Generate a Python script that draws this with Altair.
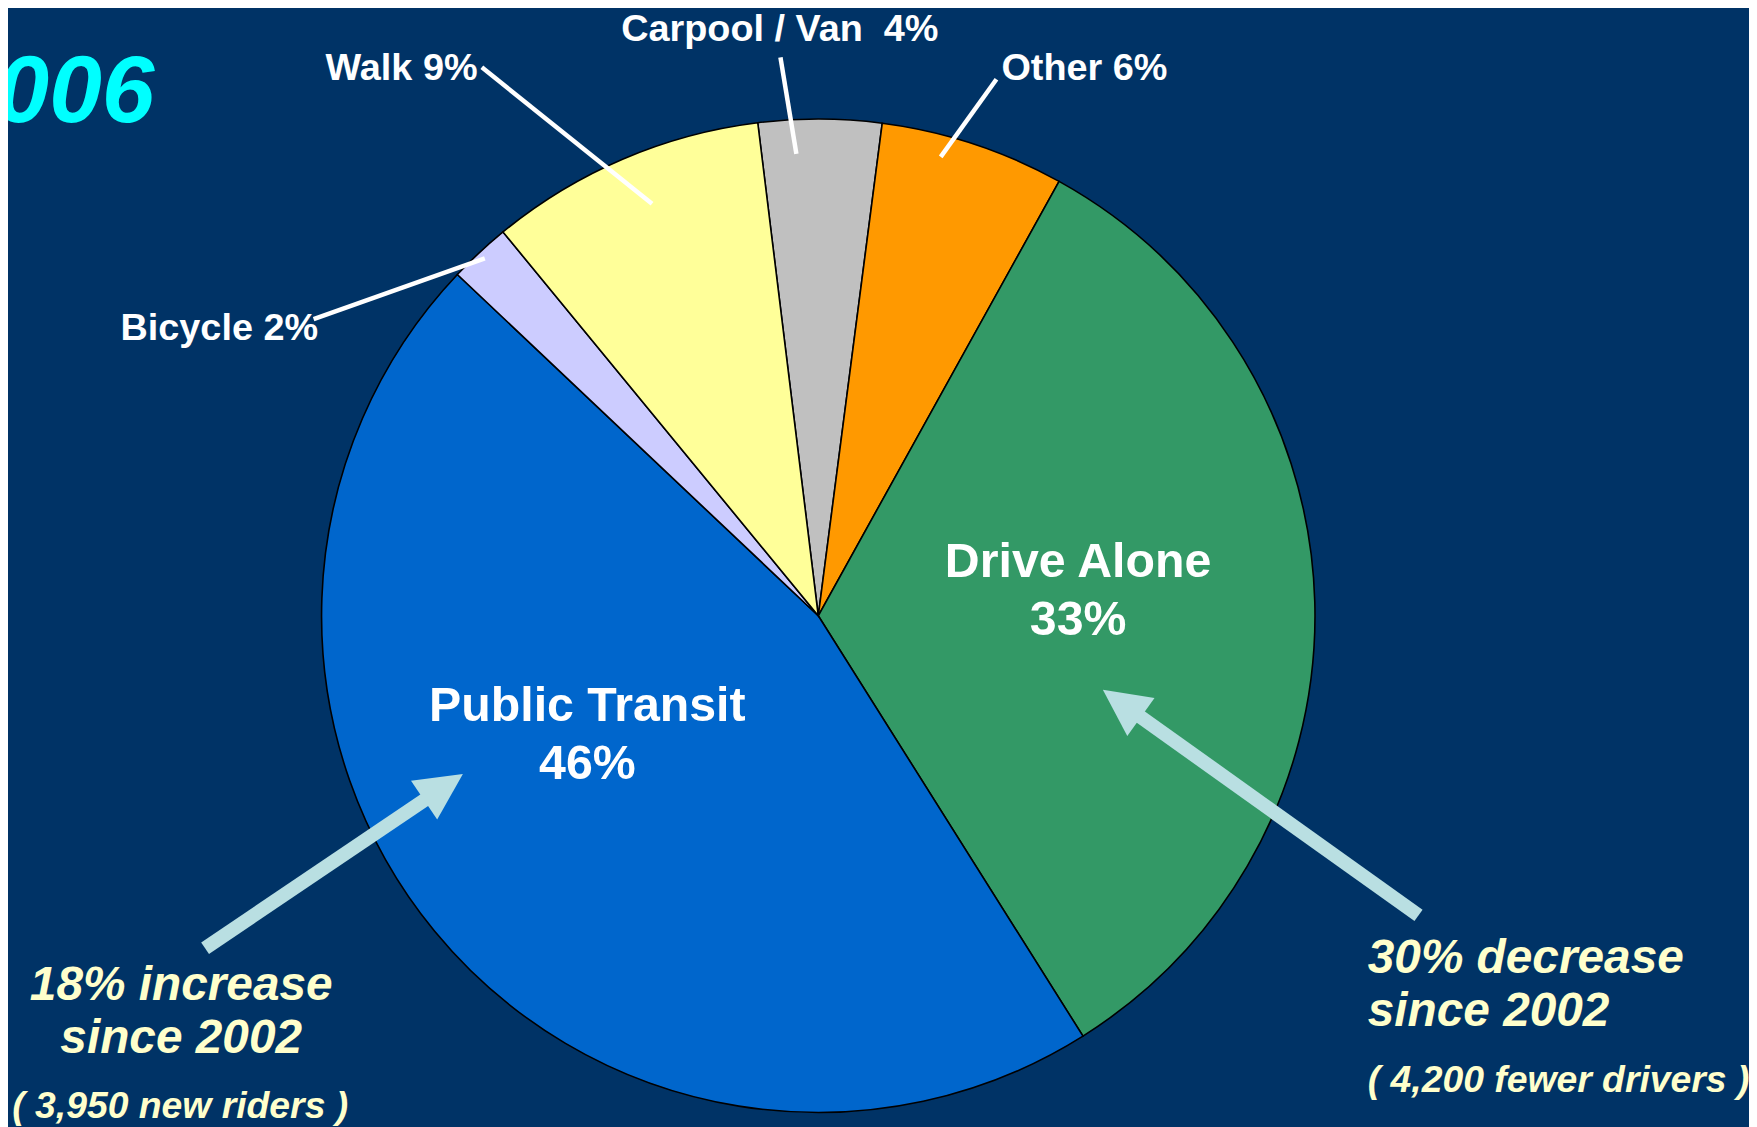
import math
import altair as alt
import pandas as pd

# ---- data ----
modes = ["Carpool / Van", "Other", "Drive Alone", "Public Transit", "Bicycle", "Walk"]
shares = [4, 6, 33, 46, 2, 9]
colors = ["#C0C0C0", "#FF9900", "#339966", "#0066CC", "#CCCCFF", "#FFFF99"]

leader_labels = ["Walk 9%", "Bicycle 2%", "Carpool / Van\u00a0 4%", "Other 6%"]
inner_labels = [["Drive Alone", "33%"], ["Public Transit", "46%"]]
note_left = ["18% increase", "since 2002", "( 3,950 new riders )"]
note_right = ["30% decrease", "since 2002", "( 4,200 fewer drivers )"]
title_text = "2006"

BG = "#003366"
FONT = "Liberation Sans"
CREAM = "#FFFFCC"
ARROW = "#B9DFE2"

W, H = 1749, 1119
CX, CY, R = 814, 608, 499
start = math.radians(-7.0)

df = pd.DataFrame({"mode": modes, "share": shares})

pie = alt.Chart(df).transform_window(idx="row_number()").mark_arc(
    radius=R, stroke="black", strokeWidth=1.6
).encode(
    theta=alt.Theta("share:Q", stack=True,
                    scale=alt.Scale(range=[start, start + 2 * math.pi])),
    order=alt.Order("idx:Q"),
    color=alt.Color("mode:N", scale=alt.Scale(domain=modes, range=colors), legend=None),
    x=alt.value(CX),
    y=alt.value(CY),
)


def txt(s, x, y, size, color="white", align="left", italic=False):
    return alt.Chart(alt.Data(values=[{"t": s}])).mark_text(
        font=FONT, fontWeight="bold", fontStyle="italic" if italic else "normal",
        fontSize=size, color=color, align=align, baseline="alphabetic",
    ).encode(text="t:N", x=alt.value(x), y=alt.value(y))


def seg(x1, y1, x2, y2, color, width):
    return alt.Chart(alt.Data(values=[{"a": 0}])).mark_rule(
        color=color, strokeWidth=width, strokeCap="butt"
    ).encode(x=alt.value(x1), y=alt.value(y1), x2=alt.value(x2), y2=alt.value(y2))


def head(x, y, angle):
    return alt.Chart(alt.Data(values=[{"a": 0}])).mark_point(
        shape="M0,-1L1,1L-1,1Z", size=2209, filled=True, fill=ARROW,
        strokeWidth=0, opacity=1, angle=angle,
    ).encode(x=alt.value(x), y=alt.value(y))


layers = [pie]

# leader lines and labels
layers += [
    seg(476, 57, 647, 194, "white", 4.5),
    seg(307, 310, 479, 249, "white", 4.5),
    seg(776, 47, 792, 144, "white", 4.5),
    seg(993, 69, 937, 147, "white", 4.5),
    txt(leader_labels[0], 319, 70, 38),
    txt(leader_labels[1], 113, 331, 38),
    txt(leader_labels[2], 616, 31, 38),
    txt(leader_labels[3], 998, 70, 38),
]

# inner labels
layers += [
    txt(inner_labels[0][0], 1075, 569, 48.5, align="center"),
    txt(inner_labels[0][1], 1075, 627, 48.5, align="center"),
    txt(inner_labels[1][0], 582, 714, 48.5, align="center"),
    txt(inner_labels[1][1], 582, 772, 48.5, align="center"),
]

# arrows
layers += [
    seg(198, 942, 420, 792, ARROW, 14),
    head(437.5, 780, 56),
    seg(1417, 909, 1137, 709, ARROW, 14),
    head(1119, 696, 305.6),
]

# notes
layers += [
    txt(note_left[0], 174, 994, 48, CREAM, "center", True),
    txt(note_left[1], 174, 1047, 48, CREAM, "center", True),
    txt(note_left[2], 173, 1113, 37.5, CREAM, "center", True),
    txt(note_right[0], 1366, 967, 48, CREAM, "left", True),
    txt(note_right[1], 1366, 1020, 48, CREAM, "left", True),
    txt(note_right[2], 1366, 1086, 37.5, CREAM, "left", True),
    txt(title_text, 147, 112, 95, "#00FFFF", "right", True),
]

chart = alt.layer(*layers).properties(
    width=W, height=H, background=BG, padding=0,
    autosize=alt.AutoSizeParams(type="none"),
).configure_view(stroke=None)

chart.save("out.html", embed_options={"renderer": "svg", "actions": False})
